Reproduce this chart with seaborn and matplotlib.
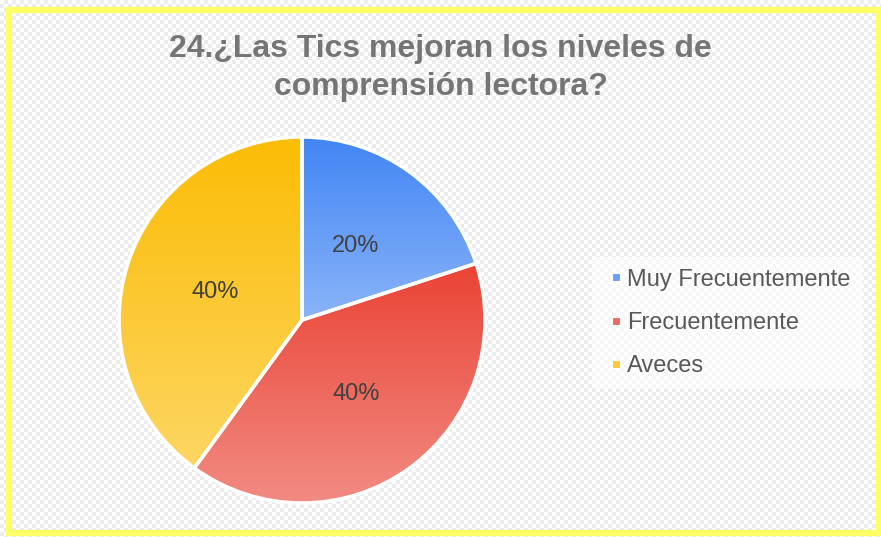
import numpy as np
import seaborn as sns
import matplotlib.pyplot as plt
from matplotlib.colors import LinearSegmentedColormap
from matplotlib.lines import Line2D
from matplotlib.patches import Rectangle

# Data
categories = ["Muy Frecuentemente", "Frecuentemente", "Aveces"]
values = [20, 40, 40]
top_colors = ["#4285f4", "#ea4335", "#fbbc04"]
bottom_colors = ["#8ab4f8", "#f28b82", "#fdd663"]
legend_colors = ["#6a9ef6", "#ee6a5f", "#fcc93a"]
title = "24.¿Las Tics mejoran los niveles de\ncomprensión lectora?"

sns.set_theme(style="white")
plt.rcParams['font.family'] = ['Liberation Sans', 'DejaVu Sans']

W, H = 881, 537
fig = plt.figure(figsize=(W / 100, H / 100), dpi=100)
fig.patch.set_facecolor("#f6f6f6")

# light checkered background (transparent look)
yy, xx = np.mgrid[0:H, 0:W]
checker = np.where(((xx // 4) + (yy // 4)) % 2 == 0, 1.0, 0.925)
fig.figimage(np.dstack([checker] * 3), xo=0, yo=0, zorder=-10)

# pie axes: center ~ (302, 320) px, radius ~183 px
half = 190
ax = fig.add_axes([(302 - half) / W, (H - 320 - half) / H, 2 * half / W, 2 * half / H])
ax.set_facecolor("none")
ax.set_zorder(1)

wedges, texts, autotexts = ax.pie(
    values, startangle=90, counterclock=False, radius=1.0,
    autopct=lambda p: f"{p:.0f}%", pctdistance=0.5,
    wedgeprops=dict(edgecolor="white", linewidth=2.5),
    textprops=dict(fontsize=17, color="#404040"))

# vertical gradient fill per wedge
grad = np.linspace(0, 1, 256).reshape(-1, 1)
for w, c0, c1 in zip(wedges, top_colors, bottom_colors):
    bb = w.get_path().get_extents()
    cmap = LinearSegmentedColormap.from_list("g", [c0, c1])
    im = ax.imshow(grad, cmap=cmap, aspect="auto", origin="upper",
                   extent=[bb.x0, bb.x1, bb.y0, bb.y1], zorder=1)
    im.set_clip_path(w)
    w.set_facecolor("none")
    w.set_zorder(2)
for t in autotexts:
    t.set_zorder(3)

lim = half / 183
ax.set_xlim(-lim, lim)
ax.set_ylim(-lim, lim)
ax.set_aspect("equal")
ax.axis("off")

fig.text(0.5, 1 - 68 / H, title, ha="center", va="center", fontsize=23,
         fontweight="bold", color="#757575", linespacing=1.33, zorder=2)

handles = [Line2D([], [], marker="s", linestyle="none", markersize=6,
                  markerfacecolor=c, markeredgecolor="white", markeredgewidth=0.8)
           for c in legend_colors]
leg = fig.legend(handles, categories, loc="center left",
                 bbox_to_anchor=(592 / W, 1 - 323 / H), frameon=True,
                 fontsize=17, labelspacing=0.9, handletextpad=0.0,
                 handlelength=1.0, borderpad=0.5, borderaxespad=0)
leg.set_zorder(2)
leg.get_frame().set_facecolor("white")
leg.get_frame().set_alpha(0.6)
leg.get_frame().set_edgecolor("none")
for t in leg.get_texts():
    t.set_color("#595959")

# yellow outer border
fig.patches.append(Rectangle((9 / W, 1 - 533 / H), 870 / W, 523 / H,
                             transform=fig.transFigure, fill=False,
                             edgecolor="#ffff66", linewidth=4.5, zorder=5))

fig.savefig("out.png", dpi=100, facecolor=fig.get_facecolor())
